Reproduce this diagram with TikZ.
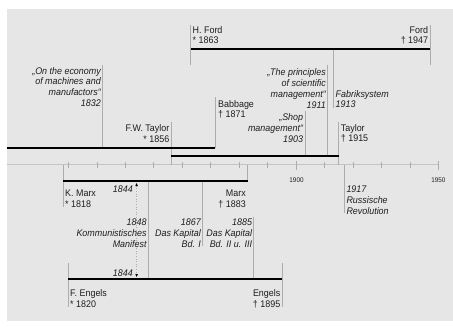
\documentclass[tikz,border=0pt]{standalone}
\usepackage{fontspec}
\setmainfont{Liberation Sans}[FakeStretch=0.93]
\usepackage{xcolor}
\usetikzlibrary{arrows.meta}
\definecolor{bgc}{HTML}{E6E6E6}
\definecolor{linec}{HTML}{ADADAD}
\definecolor{axisc}{HTML}{C4C4C4}
\definecolor{txtc}{HTML}{1E1E1E}
\tikzset{
  bar/.style={line width=1.8pt,black},
  tl/.style={linec,line width=0.6pt},
  tickline/.style={linec,line width=0.5pt},
  lbl/.style={inner sep=0pt,txtc,font=\fontsize{9.6}{10.8}\selectfont},
  lblr/.style={lbl,align=right,anchor=north east},
  lbll/.style={lbl,align=left,anchor=north west},
  work/.style={font=\fontsize{9.6}{10.8}\selectfont\itshape},
  yrlbl/.style={inner sep=0pt,txtc,font=\fontsize{6.8}{7}\selectfont},
  meetline/.style={linec,dotted,line width=0.6pt,
    {Triangle[length=3pt,width=2.4pt,black]}-{Triangle[length=3pt,width=2.4pt,black]}}
}

\begin{document}
\begin{tikzpicture}[x=1pt,y=-1pt]
\useasboundingbox (0,0) rectangle (453,332);
\fill[bgc] (7,9) rectangle (453,320.5);
% axis with ticks
\draw[axisc,line width=0.7pt] (7,164.5) -- (438.3,164.5);
\foreach \yr in {1820,1830,...,1940}
  \draw[tickline] ({296+(\yr-1900)*2.846},161.5) -- ++(0,6);
\draw[tickline] (296,161) -- (296,170);
\draw[tickline] (438.3,161) -- (438.3,170);
\node[yrlbl] (y1900) at (296.5,180.5) {1900};
\node[yrlbl] (y1950) at (438.3,180.5) {1950};
% year lines
\draw[tl] (190.7,25) -- (190.7,65);
\draw[tl] (429.8,25) -- (429.8,65);
\draw[tl] (102.5,65) -- (102.5,147.7);
\draw[tl] (327.3,65) -- (327.3,155.7);
\draw[tl] (333.3,49) -- (333.3,108);
\draw[tl] (215,97) -- (215,147.7);
\draw[tl] (304.8,111) -- (304.8,155.7);
\draw[tl] (170.8,122) -- (170.8,164.5);
\draw[tl] (338.5,121.5) -- (338.5,164.5);
\draw[tl] (62.8,164.5) -- (62.8,206.7);
\draw[tl] (247.5,164.5) -- (247.5,181);
\draw[tl] (148.3,181) -- (148.3,279);
\draw[tl] (202.3,181) -- (202.3,246);
\draw[tl] (253.3,216.7) -- (253.3,279);
\draw[tl] (344.4,164.5) -- (344.4,213);
\draw[tl] (68.3,263.3) -- (68.3,306.7);
\draw[tl] (281.8,263.3) -- (281.8,306.7);
% life bars
\draw[bar] (190.7,49) -- (429.8,49);
\draw[bar] (7,147.7) -- (215,147.7);
\draw[bar] (170.8,155.7) -- (338.5,155.7);
\draw[bar] (62.8,181) -- (247.5,181);
\draw[bar] (68.3,279) -- (281.8,279);
\draw[meetline] (136.6,183) -- (136.6,277);
% labels above the axis
\node[lbll] (ford) at (192.5,26) {H. Ford\\* 1863};
\node[lblr] (fordend) at (428.3,26) {Ford\\† 1947};
\node[lblr,work] (economy) at (101,67) {„On the economy\\of machines and\\manufactors“\\1832};
\node[lblr,work] (principles) at (326,68.5) {„The principles\\of scientific\\management“\\1911};
\node[lbll,work] (fabrik) at (335.5,90) {Fabriksystem\\1913};
\node[lbll] (babbage) at (218,100) {Babbage\\† 1871};
\node[lblr,work] (shop) at (303.3,113.3) {„Shop\\management“\\1903};
\node[lblr] (taylor) at (169.5,124.3) {F.W. Taylor\\* 1856};
\node[lbll] (taylorend) at (340.7,124) {Taylor\\† 1915};
% labels below the axis
\node[lbll] (marx) at (65,190) {K. Marx\\* 1818};
\node[lblr] (marxend) at (246,190) {Marx\\† 1883};
\node[lblr,work] (meet1) at (133,185.5) {1844};
\node[lblr,work] (manifest) at (146.7,218.5) {1848\\Kommunistisches\\Manifest};
\node[lblr,work] (kapital1) at (201,218.5) {1867\\Das Kapital\\Bd. I};
\node[lblr,work] (kapital2) at (252.3,218.5) {1885\\Das Kapital\\Bd. II u. III};
\node[lbll,work] (revolution) at (346.3,186) {1917\\Russische\\Revolution};
\node[lblr,work] (meet2) at (133,269.5) {1844};
\node[lbll] (engels) at (70,289.5) {F. Engels\\* 1820};
\node[lblr] (engelsend) at (280.5,289.5) {Engels\\† 1895};
\end{tikzpicture}
\end{document}
